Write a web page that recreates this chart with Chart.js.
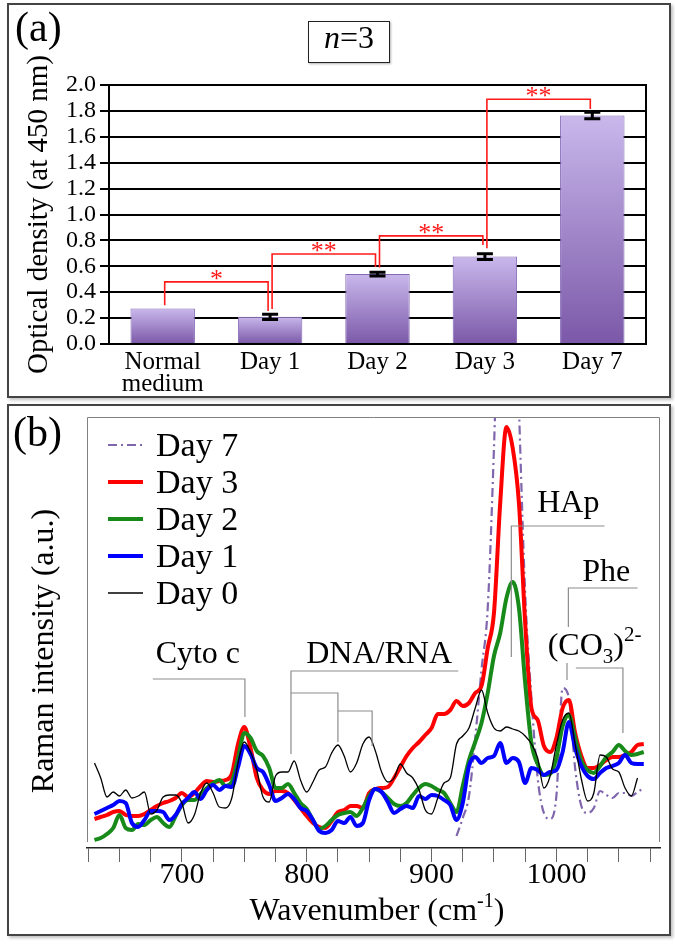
<!DOCTYPE html>
<html>
<head>
<meta charset="utf-8">
<script src="https://cdn.jsdelivr.net/npm/chart.js@4.4.0/dist/chart.umd.min.js"></script>
<style>
  body { margin: 0; background: #fff; }
  #page { position: relative; width: 675px; height: 947px; overflow: hidden; font-family: 'Liberation Serif', 'Times New Roman', serif; }
  .frame { position: absolute; box-sizing: border-box; border: 2px solid #444; box-shadow: 2px 2px 3px rgba(0,0,0,0.25); }
  canvas { position: absolute; left: 0; }
  .tag { position: absolute; font-size: 42px; line-height: 42px; color: #000; }
  #nbox { position: absolute; left: 308px; top: 21px; width: 82px; height: 42px; box-sizing: border-box; border: 1.5px solid #222; font-size: 32px; line-height: 30px; text-align: center; box-shadow: 1px 1px 2px rgba(0,0,0,0.3); }
</style>
</head>
<body>
<div id="page">
  <div class="frame" style="left:7px;top:3px;width:664px;height:395px"></div>
  <div class="frame" style="left:7px;top:404px;width:664px;height:532px"></div>
  <canvas id="chartA" width="675" height="400" style="top:0"></canvas>
  <canvas id="chartB" width="675" height="547" style="top:400px"></canvas>
  <div class="tag" style="left:15px;top:6px">(a)</div>
  <div class="tag" style="left:13px;top:411px">(b)</div>
  <div id="nbox"><i>n</i>=3</div>
</div>
<script>
var serif = "'Liberation Serif', 'Times New Roman', serif";

// panel (a): optical density
var odLabels = [['Normal', 'medium'], 'Day 1', 'Day 2', 'Day 3', 'Day 7'];
var odMeans = [0.275, 0.21, 0.54, 0.675, 1.765];
var odErrors = [0, 0.02, 0.015, 0.022, 0.025];
var sigFrom = [0, 1, 2, 3];
var sigTo = [1, 2, 3, 4];
var sigTop = [0.48, 0.695, 0.835, 1.89];
var sigFootL = [0.30, 0.27, 0.59, 0.74];
var sigFootR = [0.255, 0.595, 0.765, 1.815];
var sigMarks = ['*', '**', '**', '**'];

// panel (b): Raman spectra
var wavenumbers = [630, 635, 640, 645, 650, 655, 660, 665, 670, 675,
  680, 685, 690, 695, 700, 705, 710, 715, 720, 725,
  730, 735, 740, 745, 750, 755, 760, 765, 770, 775,
  780, 785, 790, 795, 800, 805, 810, 815, 820, 825,
  830, 835, 840, 845, 850, 855, 860, 865, 870, 875,
  880, 885, 890, 895, 900, 905, 910, 915, 920, 925,
  930, 935, 940, 945, 950, 955, 960, 965, 970, 975,
  980, 985, 990, 995, 1000, 1005, 1010, 1015, 1020, 1025,
  1030, 1035, 1040, 1045, 1050, 1055, 1060, 1065, 1070];
var day7 = [null, null, null, null, null, null, null, null, null, null,
  null, null, null, null, null, null, null, null, null, null,
  null, null, null, null, null, null, null, null, null, null,
  null, null, null, null, null, null, null, null, null, null,
  null, null, null, null, null, null, null, null, null, null,
  null, null, null, null, null, null, null, null, 12, 30,
  52, 110, 178, 240, 400, 600, 680, 640, 440, 255,
  150, 70, 35, 29, 52, 160, 150, 80, 42, 35,
  40, 57, 53, 50, 55, 55, 52, 56, 60];
var day3 = [29, 31, 33, 36, 37, 33, 32, 32, 34, 38,
  42, 45, 47, 50, 55, 51, 55, 62, 67, 66,
  67, 68, 74, 104, 121, 100, 70, 58, 54, 57,
  57, 55, 48, 40, 32, 25, 21, 20, 27, 36,
  38, 42, 42, 40, 55, 59, 60, 61, 70, 81,
  92, 100, 106, 113, 120, 134, 134, 138, 147, 142,
  145, 155, 162, 200, 235, 345, 421, 400, 345, 225,
  140, 128, 102, 96, 110, 140, 148, 115, 92, 80,
  80, 83, 88, 91, 91, 93, 96, 103, 104];
var day2 = [8, 10, 14, 20, 33, 20, 18, 24, 23, 28,
  31, 25, 21, 32, 43, 48, 48, 54, 60, 65,
  68, 62, 66, 90, 115, 110, 97, 92, 80, 60,
  60, 64, 55, 45, 39, 28, 19, 22, 28, 33,
  35, 36, 32, 40, 52, 59, 56, 50, 44, 42,
  45, 53, 60, 64, 62, 58, 55, 45, 36, 62,
  88, 106, 125, 155, 192, 215, 250, 266, 240, 165,
  105, 84, 73, 74, 90, 122, 133, 110, 87, 78,
  75, 82, 91, 96, 103, 97, 93, 94, 96];
var day1 = [34, 37, 40, 43, 47, 45, 25, 21, 28, 37,
  37, 36, 28, 33, 44, 50, 56, 49, 58, 63,
  58, 62, 61, 81, 102, 94, 80, 76, 63, 47,
  50, 54, 49, 40, 37, 28, 17, 15, 18, 27,
  25, 31, 22, 25, 48, 59, 56, 46, 35, 39,
  42, 40, 52, 49, 53, 52, 48, 43, 28, 45,
  82, 91, 85, 90, 92, 105, 85, 90, 86, 65,
  80, 78, 73, 76, 78, 96, 126, 100, 82, 72,
  69, 75, 80, 82, 85, 93, 85, 84, 84];
var day0 = [85, 70, 51, 56, 52, 58, 50, 52, 56, 34,
  38, 51, 53, 53, 45, 25, 33, 55, 65, 55,
  41, 40, 50, 85, 106, 96, 78, 51, 46, 72,
  76, 76, 87, 68, 56, 66, 78, 81, 95, 103,
  92, 76, 85, 104, 111, 97, 76, 66, 70, 84,
  75, 70, 58, 38, 34, 50, 65, 70, 104, 112,
  120, 140, 158, 135, 120, 117, 121, 119, 117, 112,
  104, 90, 60, 72, 103, 128, 135, 104, 69, 47,
  55, 93, 91, 79, 76, 60, 52, 70, null];
var tickWavenumbers = [625, 650, 675, 700, 725, 750, 775, 800, 825, 850, 875, 900,
  925, 950, 975, 1000, 1025, 1050, 1075];

// peak assignments: gray guide lines and their labels (wavenumber, intensity)
var annoPaths = [
  [[676.7, 169], [750.5, 169], [750.5, 131]],
  [[787.4, 94], [787.4, 177], [921.4, 177]],
  [[787.4, 155], [825, 155], [825, 106]],
  [[825, 137], [852.4, 137], [852.4, 102]],
  [[963.9, 191], [963.9, 322], [1038.5, 322]],
  [[1009.6, 221], [1009.6, 260], [1065, 260]],
  [[1008.5, 168], [1008.5, 185]],
  [[1015.6, 180], [1053.3, 180], [1053.3, 115]]
];
var annoLabels = ['Cyto c', 'DNA/RNA', 'HAp', 'Phe'];
var annoLabelX = [712.8, 858, 1009.6, 1040];
var annoLabelY = [185, 185, 336, 267];

Chart.defaults.color = '#000';
Chart.defaults.font.family = serif;

function barGradient(context) {
  var chart = context.chart;
  if (!chart.chartArea || context.dataIndex === undefined) return '#a48bd0';
  var y = chart.scales.y;
  var top = y.getPixelForValue(odMeans[context.dataIndex]);
  var base = y.getPixelForValue(0);
  var g = chart.ctx.createLinearGradient(0, top, 0, base);
  g.addColorStop(0, '#c9b8ec');
  g.addColorStop(1, '#7b58a8');
  return g;
}

var errorBarPlugin = {
  id: 'errorBars',
  afterDatasetsDraw: function (chart) {
    var ctx = chart.ctx, y = chart.scales.y;
    var bars = chart.getDatasetMeta(0).data;
    var area = chart.chartArea;
    ctx.save();
    // right frame line of the plot
    ctx.strokeStyle = '#000';
    ctx.lineWidth = 2;
    ctx.beginPath();
    ctx.moveTo(area.right, area.top - 1);
    ctx.lineTo(area.right, area.bottom + 1);
    ctx.stroke();
    ctx.lineWidth = 3;
    odErrors.forEach(function (err, i) {
      if (!err) return;
      var x = bars[i].x;
      var hi = y.getPixelForValue(odMeans[i] + err);
      var lo = y.getPixelForValue(odMeans[i] - err);
      ctx.beginPath();
      ctx.moveTo(x, hi); ctx.lineTo(x, lo);
      ctx.moveTo(x - 8, hi); ctx.lineTo(x + 8, hi);
      ctx.moveTo(x - 8, lo); ctx.lineTo(x + 8, lo);
      ctx.stroke();
    });
    // significance brackets
    ctx.strokeStyle = '#ff1a1a';
    ctx.fillStyle = '#ff1a1a';
    ctx.lineWidth = 1.6;
    ctx.font = '26px ' + serif;
    ctx.textAlign = 'center';
    ctx.textBaseline = 'alphabetic';
    for (var i = 0; i < sigFrom.length; i++) {
      var xl = bars[sigFrom[i]].x + 2;
      var xr = bars[sigTo[i]].x - 2;
      var yt = y.getPixelForValue(sigTop[i]);
      ctx.beginPath();
      ctx.moveTo(xl, y.getPixelForValue(sigFootL[i]));
      ctx.lineTo(xl, yt);
      ctx.lineTo(xr, yt);
      ctx.lineTo(xr, y.getPixelForValue(sigFootR[i]));
      ctx.stroke();
      ctx.fillText(sigMarks[i], (xl + xr) / 2, yt + 5);
    }
    ctx.restore();
  }
};

new Chart(document.getElementById('chartA'), {
  type: 'bar',
  data: {
    labels: odLabels,
    datasets: [{
      data: odMeans,
      backgroundColor: barGradient,
      borderColor: '#8467b4',
      borderWidth: 1,
      barPercentage: 0.6,
      categoryPercentage: 1.0
    }]
  },
  options: {
    responsive: false,
    animation: false,
    layout: { padding: { top: 85, right: 29, left: 0, bottom: 0 } },
    plugins: { legend: { display: false }, tooltip: { enabled: false } },
    scales: {
      x: {
        grid: { display: false },
        border: { display: false },
        ticks: { font: { size: 25, lineHeight: 0.86 }, padding: 0, maxRotation: 0, autoSkip: false },
        afterFit: function (s) { s.height = 56; }
      },
      y: {
        min: 0,
        max: 2.0,
        ticks: {
          stepSize: 0.2,
          autoSkip: false,
          font: { size: 24 },
          padding: 4,
          callback: function (v) { return v.toFixed(1); }
        },
        grid: { color: '#000', lineWidth: 2, tickLength: 9 },
        border: { color: '#000', width: 2 },
        title: {
          display: true,
          text: 'Optical density (at 450 nm)',
          font: { size: 29 },
          padding: { top: 22, bottom: 0 }
        },
        afterFit: function (s) { s.width = 109; }
      }
    }
  },
  plugins: [errorBarPlugin]
});

function drawRuns(ctx, runs, x, y, align) {
  var total = 0;
  runs.forEach(function (r) {
    ctx.font = r.size + 'px ' + serif;
    r.w = ctx.measureText(r.t).width;
    total += r.w;
  });
  var cx = align === 'center' ? x - total / 2 : x;
  ctx.textAlign = 'left';
  ctx.textBaseline = 'alphabetic';
  runs.forEach(function (r) {
    ctx.font = r.size + 'px ' + serif;
    ctx.fillText(r.t, cx, y + (r.dy || 0));
    cx += r.w;
  });
}

var spectraPlugin = {
  id: 'spectraDecor',
  afterDatasetsDraw: function (chart) {
    var ctx = chart.ctx, xs = chart.scales.x, ys = chart.scales.y;
    var area = chart.chartArea;
    ctx.save();
    // thin frame round the plot
    ctx.strokeStyle = '#808080';
    ctx.lineWidth = 1;
    ctx.beginPath();
    ctx.moveTo(area.left + 0.5, area.bottom - 6);
    ctx.lineTo(area.left + 0.5, area.top + 0.5);
    ctx.lineTo(area.right - 0.5, area.top + 0.5);
    ctx.lineTo(area.right - 0.5, area.bottom - 6);
    ctx.stroke();

    // guide lines
    ctx.strokeStyle = '#8c8c8c';
    ctx.lineWidth = 1.2;
    annoPaths.forEach(function (path) {
      ctx.beginPath();
      path.forEach(function (p, k) {
        var px = xs.getPixelForValue(p[0]), py = ys.getPixelForValue(p[1]);
        if (k === 0) ctx.moveTo(px, py); else ctx.lineTo(px, py);
      });
      ctx.stroke();
    });

    ctx.fillStyle = '#000';
    ctx.font = '32px ' + serif;
    ctx.textAlign = 'center';
    ctx.textBaseline = 'alphabetic';
    annoLabels.forEach(function (t, i) {
      ctx.fillText(t, xs.getPixelForValue(annoLabelX[i]), ys.getPixelForValue(annoLabelY[i]));
    });
    drawRuns(ctx, [
      { t: '(CO', size: 32 },
      { t: '3', size: 21, dy: 8 },
      { t: ')', size: 32 },
      { t: '2-', size: 21, dy: -14 }
    ], xs.getPixelForValue(993), ys.getPixelForValue(193), 'left');

    // axis titles
    drawRuns(ctx, [
      { t: 'Wavenumber (cm', size: 32 },
      { t: '-1', size: 20, dy: -13 },
      { t: ')', size: 32 }
    ], 377, 520, 'center');
    ctx.save();
    ctx.translate(45, 251);
    ctx.rotate(-Math.PI / 2);
    ctx.font = '32px ' + serif;
    ctx.textAlign = 'center';
    ctx.textBaseline = 'middle';
    ctx.fillText('Raman intensity (a.u.)', 0, 0);
    ctx.restore();

    // legend
    chart.data.datasets.forEach(function (ds, i) {
      var rowY = 45 + i * 37;
      ctx.strokeStyle = ds.borderColor;
      ctx.lineWidth = Math.max(ds.borderWidth, 1.5);
      ctx.setLineDash(ds.borderDash || []);
      ctx.beginPath();
      ctx.moveTo(108, rowY);
      ctx.lineTo(143, rowY);
      ctx.stroke();
      ctx.setLineDash([]);
      ctx.fillStyle = '#000';
      ctx.font = '34px ' + serif;
      ctx.textAlign = 'left';
      ctx.textBaseline = 'alphabetic';
      ctx.fillText(ds.label, 156, rowY + 11);
    });
    ctx.restore();
  }
};

function spectrum(label, values, color, width, dash, order) {
  return {
    label: label,
    data: wavenumbers.map(function (w, i) { return { x: w, y: values[i] }; }),
    borderColor: color,
    borderWidth: width,
    borderDash: dash,
    pointRadius: 0,
    cubicInterpolationMode: 'monotone',
    fill: false,
    spanGaps: false,
    order: order
  };
}

new Chart(document.getElementById('chartB'), {
  type: 'line',
  data: {
    datasets: [
      spectrum('Day 7', day7, '#7f66ad', 2.2, [9, 4, 2, 4], 5),
      spectrum('Day 3', day3, '#ff0000', 4, [], 4),
      spectrum('Day 2', day2, '#178a1a', 4, [], 3),
      spectrum('Day 1', day1, '#0000ff', 4, [], 2),
      spectrum('Day 0', day0, '#000000', 1.3, [], 1)
    ]
  },
  options: {
    responsive: false,
    animation: false,
    layout: { padding: { top: 17, right: 15, left: 87, bottom: 0 } },
    plugins: { legend: { display: false }, tooltip: { enabled: false } },
    scales: {
      x: {
        type: 'linear',
        min: 624,
        max: 1083,
        afterBuildTicks: function (s) {
          s.ticks = tickWavenumbers.map(function (v) { return { value: v }; });
        },
        ticks: {
          autoSkip: false,
          maxRotation: 0,
          font: { size: 30, lineHeight: 1 },
          padding: -2,
          callback: function (v) { return v % 100 === 0 ? String(v) : ''; }
        },
        grid: { drawOnChartArea: false, drawTicks: true, tickLength: 14, color: '#666', lineWidth: 1 },
        border: { color: '#222', width: 1.5 },
        afterFit: function (s) { s.height = 99; }
      },
      y: { display: false, min: 0, max: 431 }
    }
  },
  plugins: [spectraPlugin]
});
</script>
</body>
</html>
